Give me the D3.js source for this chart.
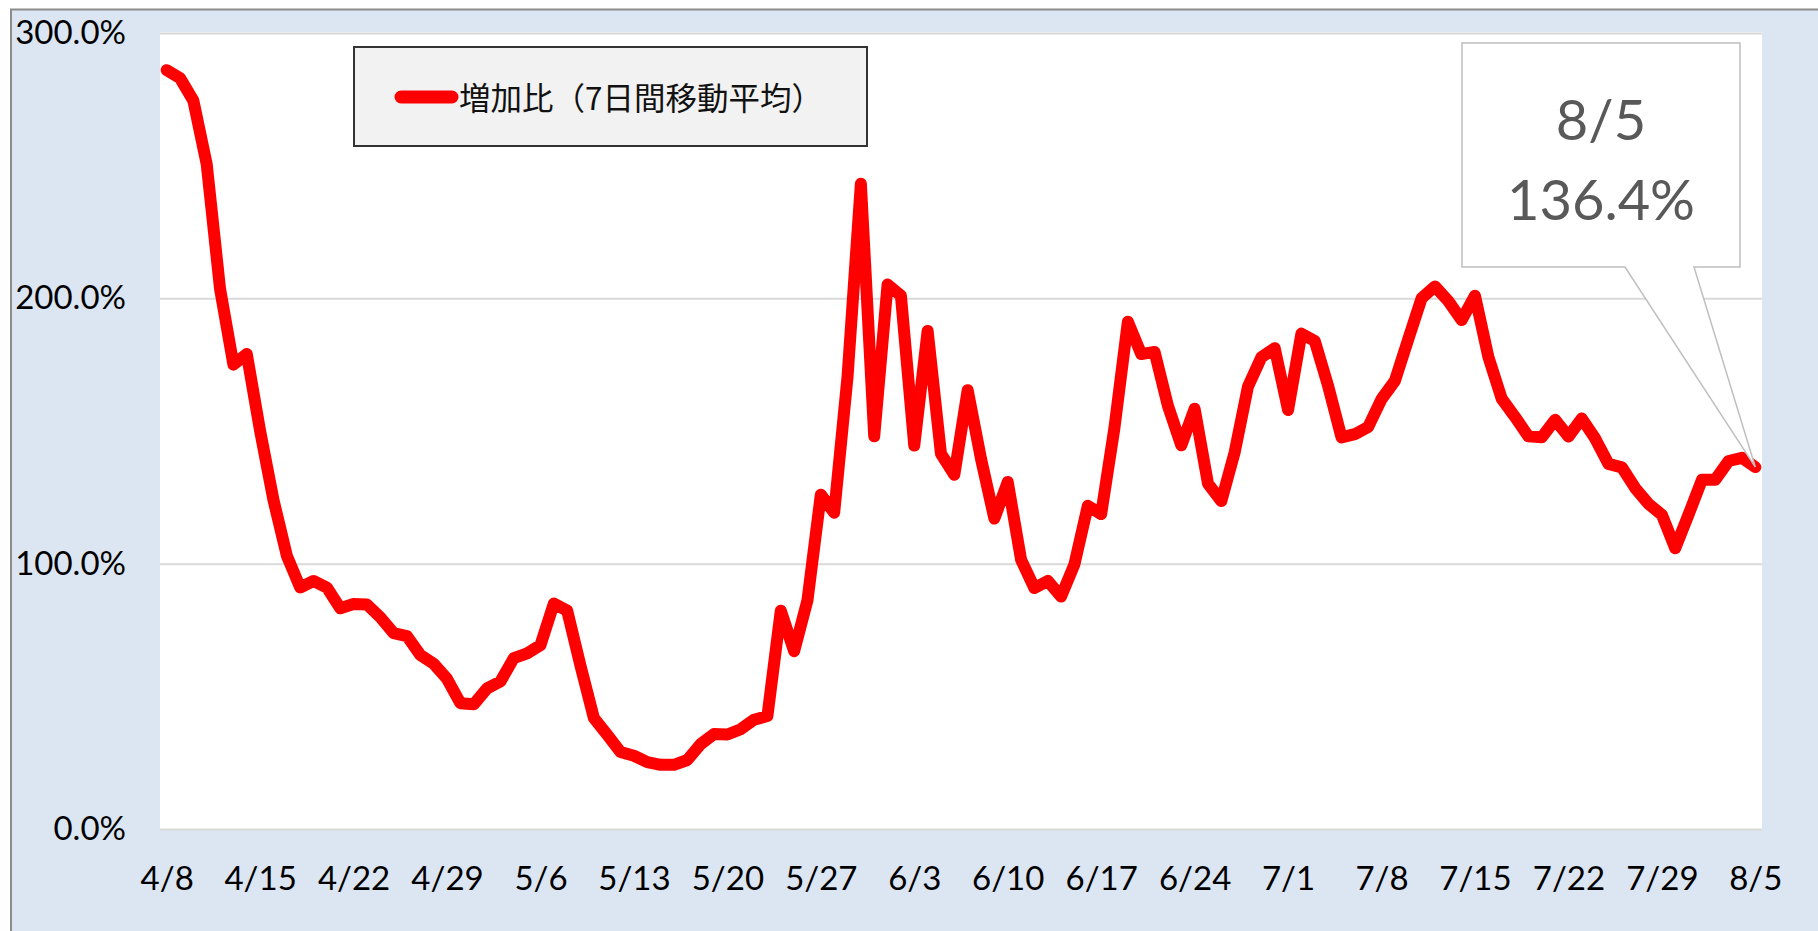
<!DOCTYPE html>
<html>
<head>
<meta charset="utf-8">
<script src="https://cdn.jsdelivr.net/npm/d3@7"></script>
<style>
  html, body { margin: 0; padding: 0; background: #fff; }
  svg { display: block; }
</style>
</head>
<body>
<svg class="canvas__element"></svg>
<script>
// data: 7-day moving average of the increase ratio (%), 4/8 .. 8/5
const startDate = new Date(2020, 3, 8);
const endDate = new Date(2020, 7, 6);
const seriesName = "増加比（7日間移動平均）";
const tickLabels = ["4/8", "4/15", "4/22", "4/29", "5/6", "5/13", "5/20", "5/27", "6/3",
  "6/10", "6/17", "6/24", "7/1", "7/8", "7/15", "7/22", "7/29", "8/5"];
const yTicks = [0, 100, 200, 300];
const ratio = [
  286, 283, 274.5, 250.5, 203.5, 175, 179, 150, 124, 103,
  91, 93.5, 91, 83.2, 84.8, 84.6, 79.8, 73.8, 72.7, 65.6,
  62.3, 56.6, 47.4, 47, 53, 55.6, 64.4, 66.2, 69.3, 85,
  82.3, 61.5, 41.8, 35.5, 29, 27.6, 25.2, 24.2, 24.2, 26,
  32, 35.8, 35.6, 37.6, 41.2, 42.6, 82.3, 67, 86.2, 126,
  119.2, 170.4, 243.2, 148, 205.2, 201, 144.5, 187.7, 141.4, 133.5,
  165.4, 139.5, 117, 130.8, 101.5, 90.8, 93.5, 87.6, 99.8, 121.8,
  118.7, 151.4, 191.2, 179, 179.8, 159.5, 144.6, 158.4, 130.2, 123.6,
  142, 166.8, 177.8, 181.2, 157.9, 186.7, 183.9, 167, 147.6, 148.8,
  151.5, 162, 168.9, 184.5, 200, 204.5, 199, 191.8, 201, 178,
  162.2, 155.3, 148, 147.6, 154.2, 147.9, 154.7, 147.2, 137.6, 136.3,
  128.5, 122.5, 118.4, 105.8, 118.5, 131.6, 131.6, 138.7, 139.9, 136.4
];

var width = 1818;
var height = 931;
var fmt = d3.timeFormat("%-m/%-d");
const categories = d3.timeDay.range(startDate, endDate).map(fmt);
const data = categories.map((c, i) => ({ cat: c, value: ratio[i] }));

var svg = d3.select(".canvas__element").attr("width", width).attr("height", height);

// chart area
svg.append("rect")
  .attr("x", 11).attr("y", 9.5)
  .attr("width", width).attr("height", height)
  .attr("fill", "#DCE6F2")
  .attr("stroke", "#8c8c8c")
  .attr("stroke-width", 2);

var plot = { left: 160, right: 1762, top: 32, bottom: 829 };

svg.append("rect")
  .attr("x", plot.left).attr("y", plot.top)
  .attr("width", plot.right - plot.left).attr("height", plot.bottom - plot.top)
  .attr("fill", "#fff");

var x = d3.scalePoint().domain(categories).range([plot.left, plot.right]).padding(0.5);
var y = d3.scaleLinear().domain([0, 300]).range([plot.bottom, plot.top + 1]);

// gridlines + y labels
var yAxis = d3.axisLeft(y).tickValues(yTicks)
  .tickSize(-(plot.right - plot.left))
  .tickPadding(34)
  .tickFormat(d => d.toFixed(1) + "%");

svg.append("g")
  .attr("transform", `translate(${plot.left},0)`)
  .call(yAxis)
  .call(g => g.select(".domain").remove())
  .call(g => g.selectAll(".tick line").attr("stroke", "#d9d9d9").attr("stroke-width", 2))
  .call(g => g.selectAll(".tick text")
    .attr("font-family", "Lato, sans-serif")
    .attr("font-size", 33)
    .attr("fill", "#000"));

// x labels every 7 days
var xAxis = d3.axisBottom(x).tickValues(tickLabels).tickSize(0).tickPadding(38);

svg.append("g")
  .attr("transform", `translate(0,${plot.bottom})`)
  .call(xAxis)
  .call(g => g.select(".domain").remove())
  .call(g => g.selectAll(".tick text")
    .attr("font-family", "Lato, sans-serif")
    .attr("font-size", 33)
    .attr("fill", "#000"));

// the line
var line = d3.line().x(d => x(d.cat)).y(d => y(d.value));

svg.append("path")
  .datum(data)
  .attr("d", line)
  .attr("fill", "none")
  .attr("stroke", "#ff0000")
  .attr("stroke-width", 12)
  .attr("stroke-linejoin", "round")
  .attr("stroke-linecap", "round");

// legend
var legend = svg.append("g");
legend.append("rect")
  .attr("x", 354).attr("y", 47)
  .attr("width", 513).attr("height", 99)
  .attr("fill", "#f2f2f2")
  .attr("stroke", "#333")
  .attr("stroke-width", 2);
legend.append("line")
  .attr("x1", 401).attr("x2", 452)
  .attr("y1", 97).attr("y2", 97)
  .attr("stroke", "#ff0000")
  .attr("stroke-width", 13)
  .attr("stroke-linecap", "round");
legend.append("text")
  .attr("x", 459).attr("y", 96)
  .attr("dominant-baseline", "central")
  .attr("font-family", "'Noto Sans CJK JP', sans-serif")
  .attr("font-size", 31.5)
  .attr("fill", "#111")
  .text(seriesName);

// callout for the last point
var last = data[data.length - 1];
var px = x(last.cat), py = y(last.value);
var box = { x0: 1462, x1: 1740, y0: 43, y1: 267 };

svg.append("path")
  .attr("d", `M${box.x0},${box.y0}H${box.x1}V${box.y1}H1694L${px},${py}L1625,${box.y1}H${box.x0}Z`)
  .attr("fill", "#fff")
  .attr("stroke", "#bfbfbf")
  .attr("stroke-width", 1.5);

var callout = svg.append("g")
  .attr("font-family", "Lato, sans-serif")
  .attr("font-size", 56)
  .attr("fill", "#595959")
  .attr("text-anchor", "middle");
callout.append("text").attr("x", 1601).attr("y", 140).text(last.cat);
callout.append("text").attr("x", 1601).attr("y", 220).text(last.value.toFixed(1) + "%");
</script>
</body>
</html>
